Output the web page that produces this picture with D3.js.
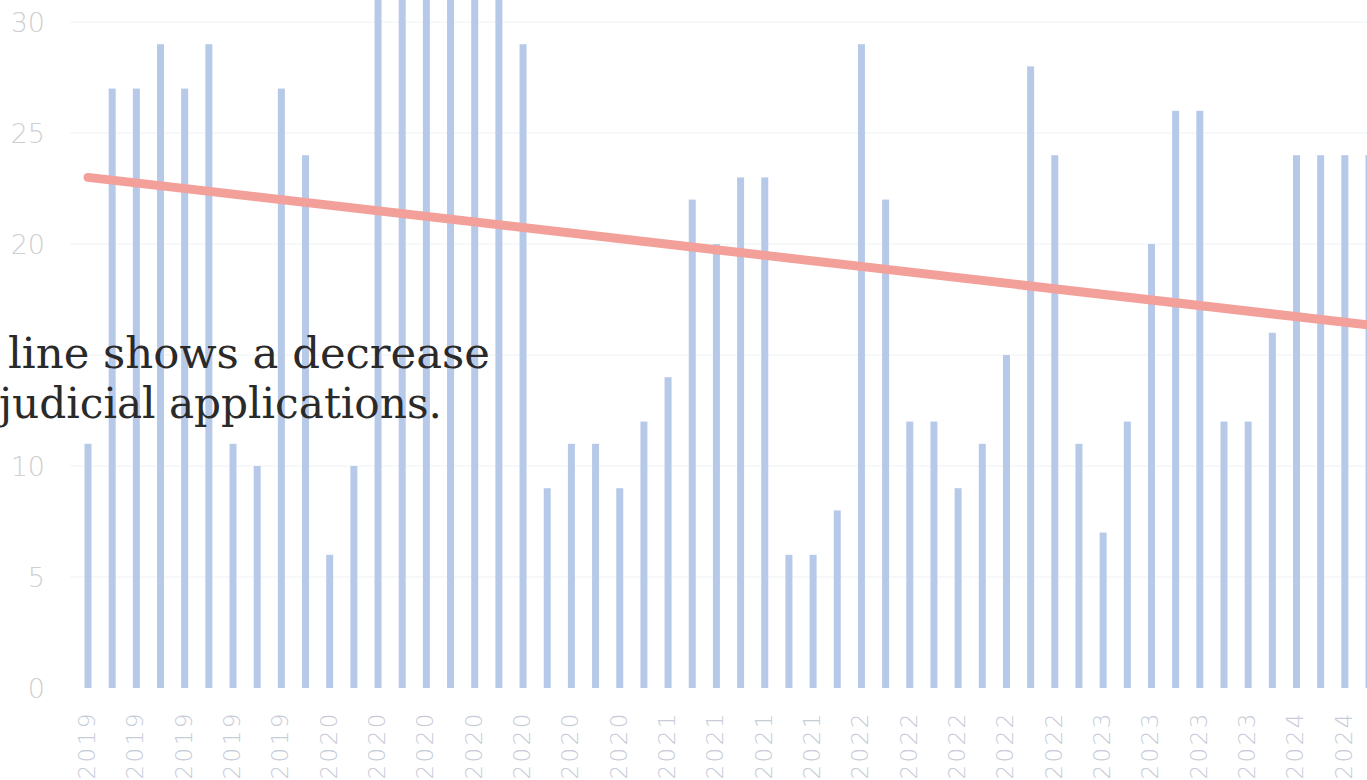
<!DOCTYPE html>
<html>
<head>
<meta charset="utf-8">
<script src="https://cdn.jsdelivr.net/npm/d3@7"></script>
<style>
  html, body { margin: 0; padding: 0; background: #ffffff; overflow: hidden; }
  svg { display: block; }
</style>
</head>
<body>
<svg id="chart" width="1367" height="780"></svg>
<script>
// ---- data ----
const years = [
  "2019","2019","2019","2019","2019","2019","2019","2019","2019","2019",
  "2020","2020","2020","2020","2020","2020","2020","2020","2020","2020",
  "2020","2020","2020","2020","2021","2021","2021","2021","2021","2021",
  "2021","2021","2022","2022","2022","2022","2022","2022","2022","2022",
  "2022","2022","2023","2023","2023","2023","2023","2023","2023","2023",
  "2024","2024","2024","2024"
];
const applications = [
  11, 27, 27, 29, 27, 29, 11, 10, 27, 24,
   6, 10, 35, 35, 35, 35, 35, 35, 29,  9,
  11, 11,  9, 12, 14, 22, 20, 23, 23,  6,
   6,  8, 29, 22, 12, 12,  9, 11, 15, 28,
  24, 11,  7, 12, 20, 26, 26, 12, 12, 16,
  24, 24, 24, 24
];
const trendValues = [23.0, 16.35];           // trend line at first and last bar
const gridTicks = [5, 10, 15, 20, 25, 30];
const yTickLabels = [0, 5, 10, 20, 25, 30];  // the 15 label is hidden under the note
const noteLines = ["line shows a decrease", "judicial applications."];

// ---- chart ----
const svg = d3.select("#chart");
const idx = d3.range(applications.length);

const x = d3.scalePoint().domain(idx).range([88, 88 + 53 * 24.17]);
const y = d3.scaleLinear().domain([0, 30]).range([688, 22]);

// gridlines
svg.append("g")
  .selectAll("line")
  .data(gridTicks)
  .join("line")
  .attr("x1", 70).attr("x2", 1367)
  .attr("y1", d => y(d)).attr("y2", d => y(d))
  .attr("stroke", "#eff1f4").attr("stroke-width", 1);

// y axis
const yAxis = d3.axisLeft(y).tickValues(yTickLabels).tickSize(0).tickPadding(0);
const gy = svg.append("g").attr("transform", "translate(45,0)").call(yAxis);
gy.select(".domain").remove();
gy.selectAll("text")
  .attr("fill", "#cfcfcf")
  .style("font-family", "'DejaVu Sans', sans-serif")
  .style("font-weight", "200")
  .style("font-size", "27px")
  .attr("dy", "0.36em");

// bars
const barW = 7;
svg.append("g")
  .selectAll("rect")
  .data(idx)
  .join("rect")
  .attr("x", i => x(i) - barW / 2)
  .attr("width", barW)
  .attr("y", i => y(applications[i]))
  .attr("height", i => y(0) - y(applications[i]))
  .attr("fill", "#b7c9e8");

// x axis labels (every other category)
const xAxis = d3.axisBottom(x)
  .tickValues(idx.filter(i => i % 2 === 0))
  .tickFormat(i => years[i])
  .tickSize(0);
const gx = svg.append("g").attr("transform", "translate(0,708)").call(xAxis);
gx.select(".domain").remove();
gx.selectAll("text")
  .attr("transform", "rotate(-90)")
  .attr("text-anchor", "end")
  .attr("x", -3)
  .attr("y", -1)
  .attr("dx", 0)
  .attr("dy", "0.32em")
  .attr("fill", "#c6ccd8")
  .style("font-family", "'DejaVu Sans', sans-serif")
  .style("font-weight", "200")
  .style("font-size", "23px")
  .style("letter-spacing", "2.5px");

// trend line
const trend = [
  { i: idx[0], v: trendValues[0] },
  { i: idx[idx.length - 1], v: trendValues[1] }
];
svg.append("path")
  .datum(trend)
  .attr("d", d3.line().x(d => x(d.i)).y(d => y(d.v)))
  .attr("fill", "none")
  .attr("stroke", "#f3a09a")
  .attr("stroke-width", 9)
  .attr("stroke-linecap", "round");

// overlaid note text
const note = svg.append("g")
  .style("font-family", "'DejaVu Serif Condensed', 'DejaVu Serif', serif")
  .style("font-size", "43px")
  .attr("fill", "#2a2a2a");
note.append("text").attr("x", 8).attr("y", 368)
  .attr("textLength", 482).attr("lengthAdjust", "spacingAndGlyphs")
  .text(noteLines[0]);
note.append("text").attr("x", -1).attr("y", 418)
  .attr("textLength", 443).attr("lengthAdjust", "spacingAndGlyphs")
  .text(noteLines[1]);
</script>
</body>
</html>
